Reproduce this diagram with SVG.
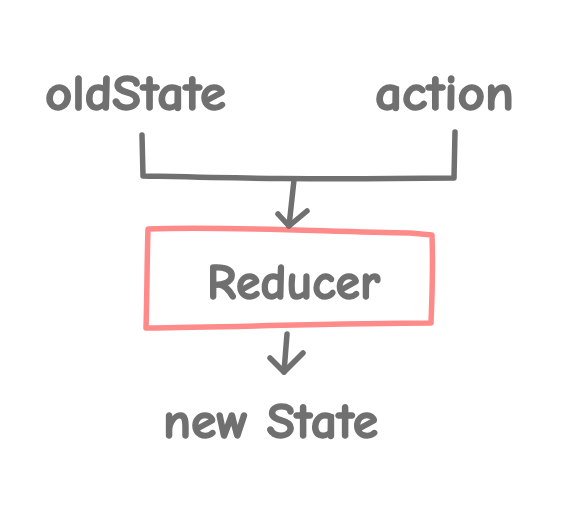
<svg xmlns="http://www.w3.org/2000/svg" width="584" height="509" viewBox="0 0 584 509">
<style>
.t{font-family:"Comic Neue","Liberation Sans",sans-serif;font-weight:bold;fill:#707070;stroke:#707070;stroke-width:1.5;stroke-linejoin:round;font-size:50px}
.c{fill:none;stroke:#707070;stroke-width:5.5;stroke-linecap:round;stroke-linejoin:round}
.box{fill:#ffffff;stroke:#ff8a8a;stroke-width:5.5;stroke-linejoin:round}
</style>
<rect width="584" height="509" fill="#ffffff"/>
<g id="oldState"><text class="t" x="45" y="110" textLength="181" lengthAdjust="spacingAndGlyphs">oldState</text></g>
<g id="action"><text class="t" x="375" y="110" textLength="139" lengthAdjust="spacingAndGlyphs">action</text></g>
<g id="reducer">
<path class="box" d="M148,229 C230,226 330,232 410,233 L432,235 C433,265 432,300 431,323 C340,323 240,327 146,328 C147,295 147,260 148,229 Z"/>
<text class="t" x="207" y="299" textLength="173" lengthAdjust="spacingAndGlyphs">Reducer</text>
</g>
<g id="newState"><text class="t" x="163" y="438" textLength="215" lengthAdjust="spacingAndGlyphs">new State</text></g>
<g id="connectors">
<path class="c" d="M142,135 L143,176 C230,178 300,180 454,178 L455,132"/>
<path class="c" d="M294,180 L289,226"/>
<path class="c" d="M278,214 L289,226 L307,211"/>
<path class="c" d="M287,334 L284,372"/>
<path class="c" d="M270,358 L284,372 L303,353"/>
</g>
</svg>
